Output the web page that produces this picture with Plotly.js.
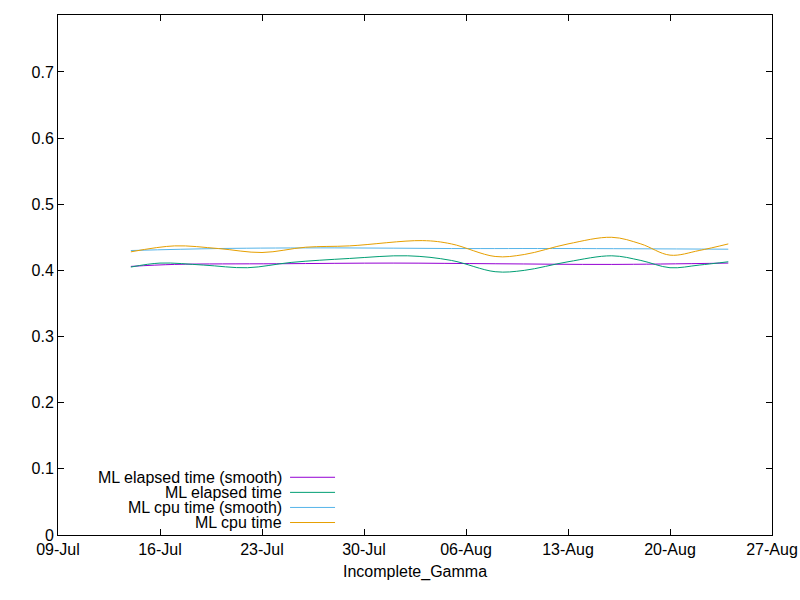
<!DOCTYPE html>
<html>
<head>
<script src="https://cdn.plot.ly/plotly-3.0.1.min.js"></script>
<style>body{margin:0}</style>
</head>
<body>
<div id="chart" style="width:800px;height:600px"></div>
<script>
var names = ['ML elapsed time (smooth)', 'ML elapsed time', 'ML cpu time (smooth)', 'ML cpu time'];
var colors = ['#9400d3', '#009e73', '#56b4e9', '#e69f00'];

var elapsedDates = ['2021-07-14','2021-07-16','2021-07-19','2021-07-22','2021-07-25','2021-07-29','2021-08-02','2021-08-05','2021-08-08','2021-08-10','2021-08-13','2021-08-16','2021-08-18','2021-08-20','2021-08-22','2021-08-24'];
var elapsed = [0.405,0.411,0.408,0.404,0.412,0.418,0.422,0.415,0.398,0.400,0.413,0.422,0.415,0.404,0.408,0.413];

var elapsedSmoothDates = ['2021-07-14','2021-07-17','2021-07-24','2021-08-01','2021-08-08','2021-08-16','2021-08-24'];
var elapsedSmooth = [0.406,0.409,0.410,0.411,0.410,0.409,0.411];

var cpuDates = ['2021-07-14','2021-07-17','2021-07-20','2021-07-23','2021-07-26','2021-07-29','2021-08-03','2021-08-05','2021-08-08','2021-08-10','2021-08-13','2021-08-16','2021-08-18','2021-08-20','2021-08-22','2021-08-24'];
var cpu = [0.428,0.437,0.433,0.427,0.435,0.437,0.445,0.440,0.421,0.424,0.440,0.450,0.440,0.423,0.430,0.440];

var cpuSmoothDates = ['2021-07-14','2021-07-20','2021-07-28','2021-08-05','2021-08-13','2021-08-24'];
var cpuSmooth = [0.430,0.433,0.434,0.433,0.433,0.432];

var xs = [elapsedSmoothDates, elapsedDates, cpuSmoothDates, cpuDates];
var ys = [elapsedSmooth, elapsed, cpuSmooth, cpu];

var traces = [];
var annotations = [];
var shapes = [];
for (var i = 0; i < names.length; i++) {
    traces.push({x: xs[i], y: ys[i], name: names[i], type: 'scatter', mode: 'lines',
        line: {color: colors[i], width: 1, shape: 'spline'}});
    var py = 0.111 - i * 0.029;
    annotations.push({xref: 'paper', yref: 'paper', x: 0.317, y: py, xanchor: 'right', yanchor: 'middle',
        text: names[i], showarrow: false, font: {size: 16, color: '#000'}});
    shapes.push({type: 'line', xref: 'paper', yref: 'paper', x0: 0.325, x1: 0.388, y0: py, y1: py,
        line: {color: colors[i], width: 1}});
}

var axisStyle = {showline: true, mirror: 'ticks', linecolor: '#000', linewidth: 1, ticks: 'inside',
    ticklen: 6, tickcolor: '#000', showgrid: false, zeroline: false, tickfont: {size: 16, color: '#000'}};

var layout = {
    width: 800, height: 600,
    margin: {l: 58, r: 28, t: 15, b: 65},
    font: {family: 'Liberation Sans, Arial, sans-serif', color: '#000'},
    showlegend: false,
    plot_bgcolor: '#fff', paper_bgcolor: '#fff',
    xaxis: Object.assign({}, axisStyle, {type: 'date', range: ['2021-07-09', '2021-08-27'],
        tick0: '2021-07-09', dtick: 7 * 86400000, tickformat: '%d-%b',
        title: {text: 'Incomplete_Gamma', font: {size: 16}, standoff: 8}}),
    yaxis: Object.assign({}, axisStyle, {range: [0, 0.786], dtick: 0.1}),
    annotations: annotations,
    shapes: shapes
};

Plotly.newPlot('chart', traces, layout, {displayModeBar: false, staticPlot: true});
</script>
</body>
</html>
